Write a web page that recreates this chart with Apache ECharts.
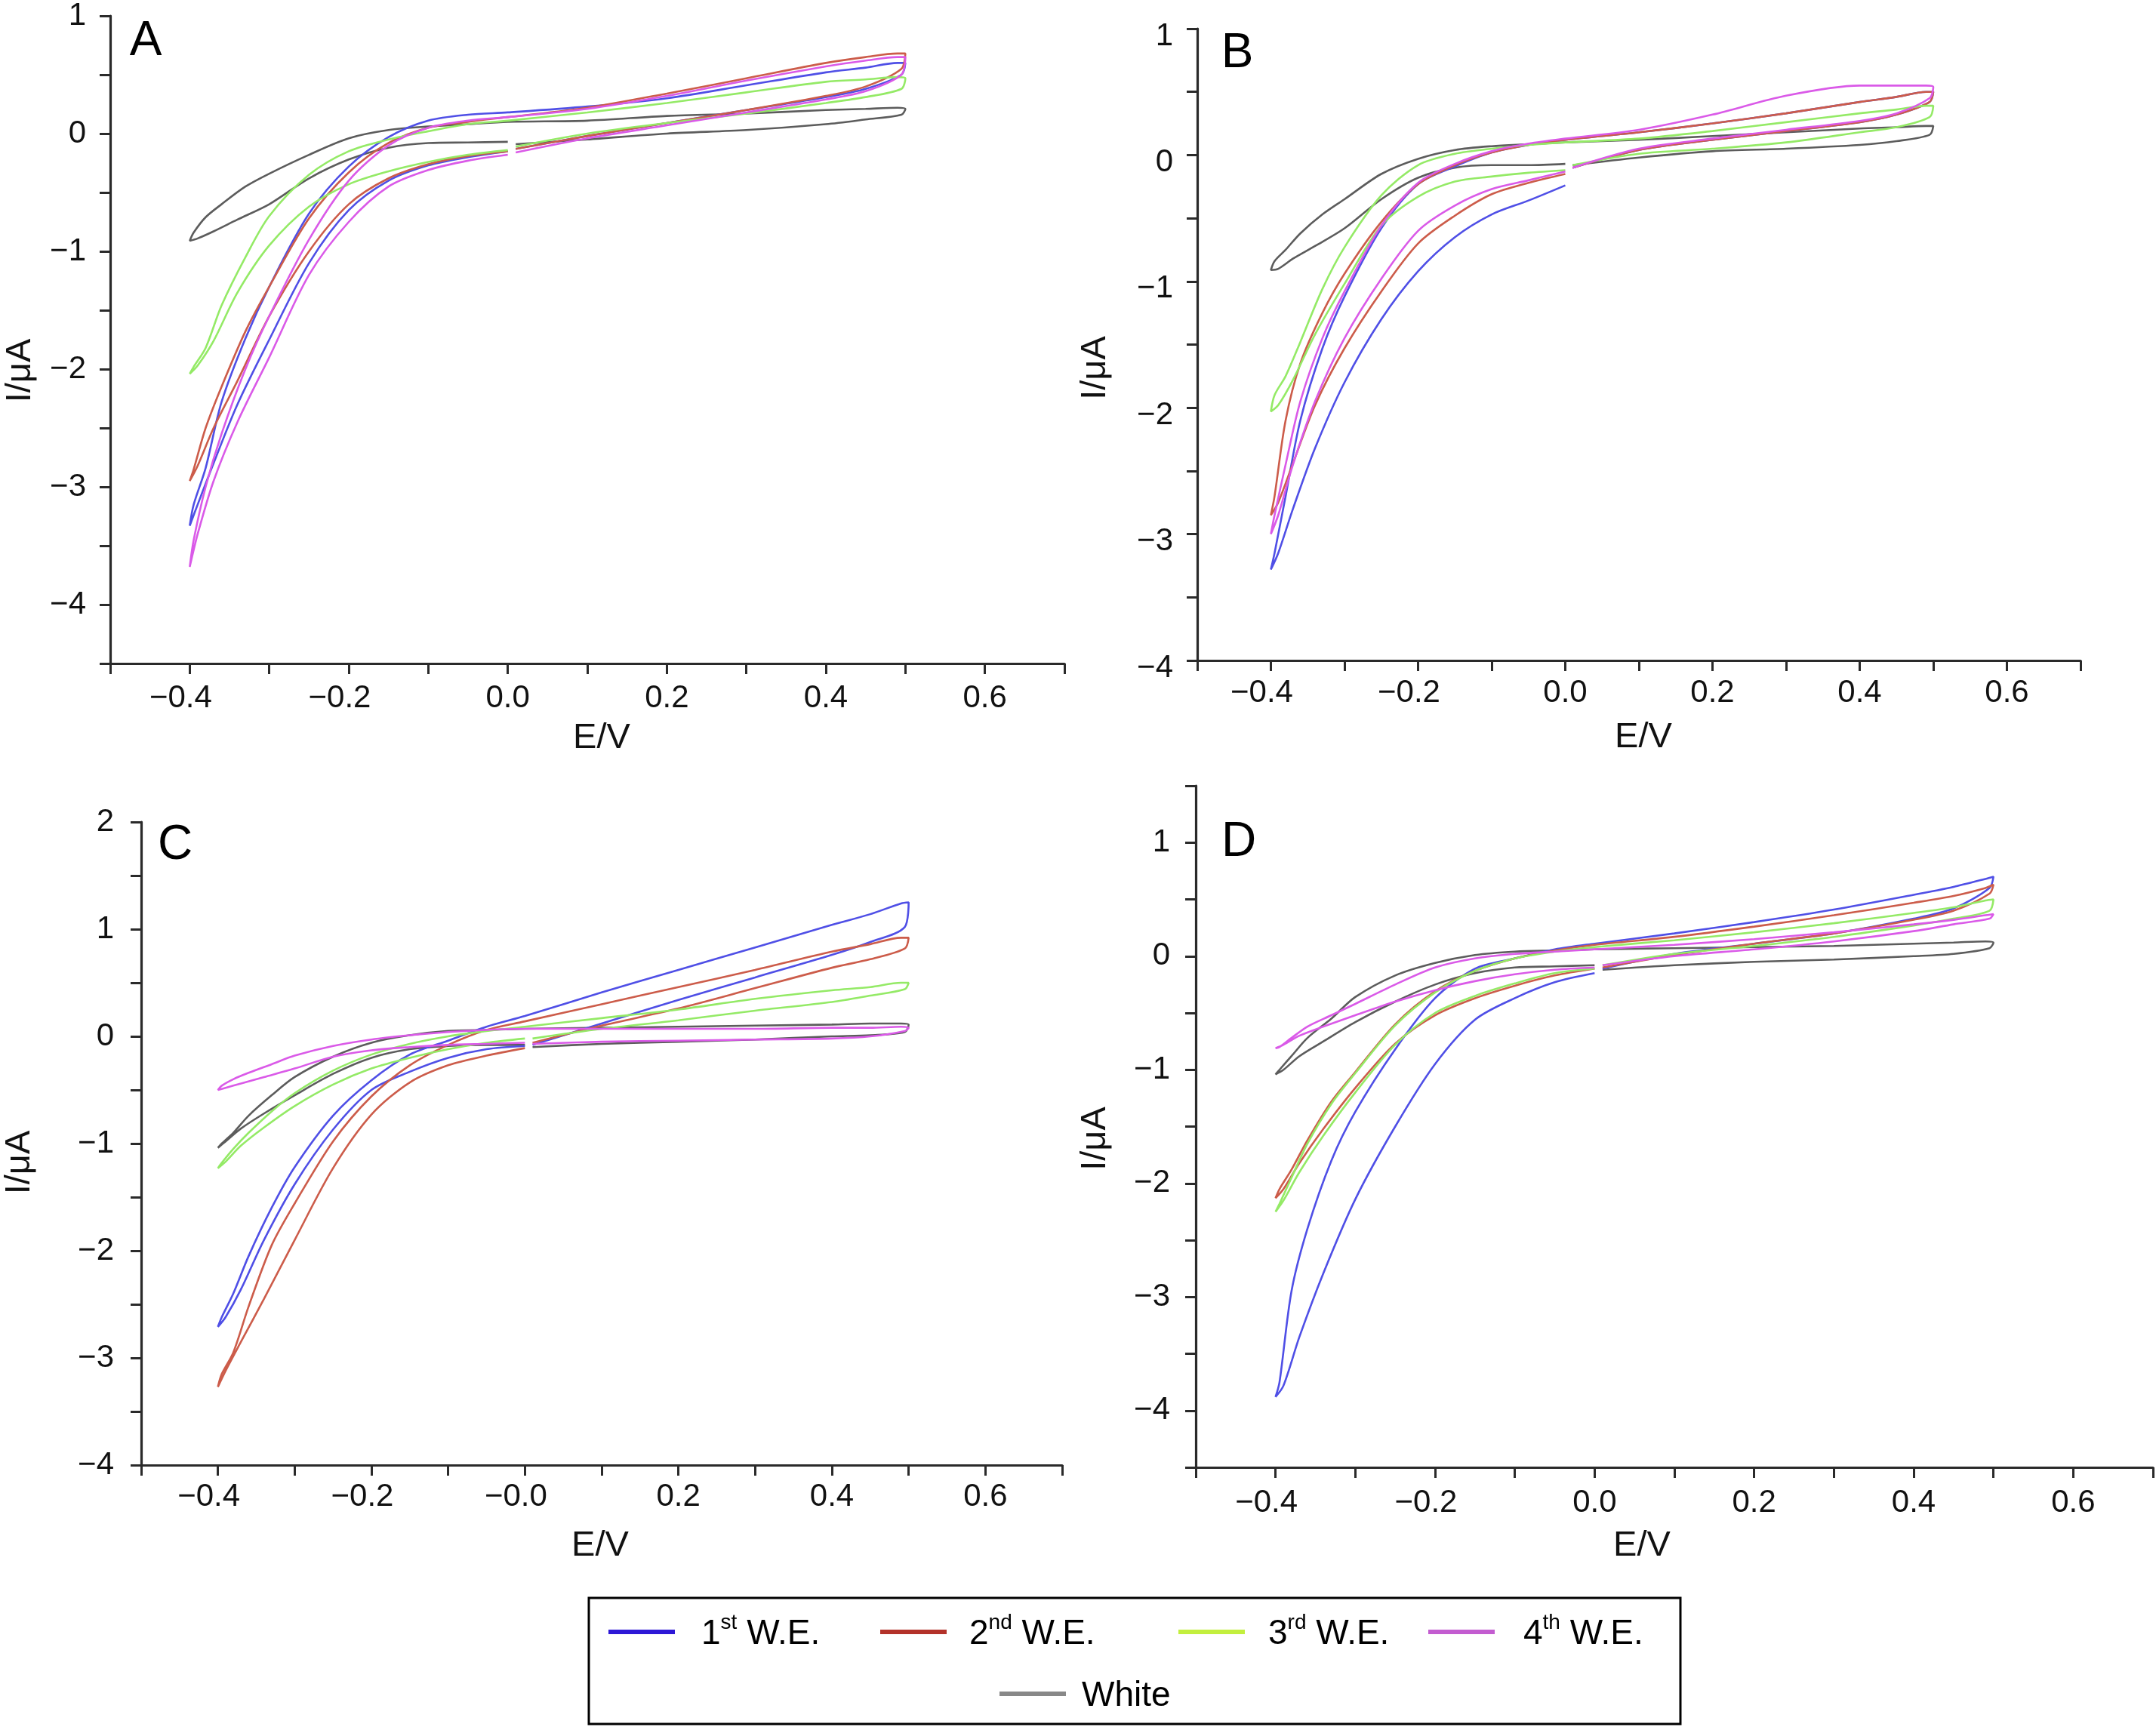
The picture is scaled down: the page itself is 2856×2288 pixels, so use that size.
<!DOCTYPE html>
<html>
<head>
<meta charset="utf-8">
<script src="https://cdn.jsdelivr.net/npm/echarts@6/dist/echarts.min.js"></script>
<style>
html,body{margin:0;padding:0;background:#fff;}
#c{width:2856px;height:2288px;}
</style>
</head>
<body>
<div id="c"></div>
<script>
// ---------------- DATA ----------------
// potential sweep (V): 0 -> -0.4 (cathodic), -0.4 -> 0.5 (anodic), 0.5 -> 0 (return)
const E_SWEEP = [0,-0.05,-0.1,-0.15,-0.2,-0.25,-0.3,-0.34,-0.37,-0.39,-0.4,
  -0.395,-0.38,-0.36,-0.33,-0.3,-0.25,-0.2,-0.15,-0.1,-0.05,
  0,0.1,0.2,0.3,0.4,0.45,0.49,0.5,
  0.495,0.45,0.4,0.3,0.2,0.1,0.01];

const SERIES_NAMES = ['1st W.E.','2nd W.E.','3rd W.E.','4th W.E.','White'];

// Panel A currents (µA)
const A_WE1 = [-0.15,-0.20,-0.27,-0.40,-0.65,-1.10,-1.75,-2.30,-2.80,-3.15,-3.33, -3.15,-2.84,-2.28,-1.74,-1.30,-0.68,-0.28,-0.03,0.11,0.16, 0.18,0.23,0.30,0.41,0.52,0.56,0.60,0.60, 0.50,0.38,0.31,0.20,0.09,-0.02,-0.13];
const A_WE2 = [-0.15,-0.19,-0.26,-0.38,-0.60,-1.00,-1.55,-2.10,-2.50,-2.82,-2.95, -2.85,-2.50,-2.15,-1.68,-1.30,-0.72,-0.33,-0.08,0.05,0.10, 0.14,0.22,0.34,0.47,0.60,0.65,0.68,0.68, 0.55,0.40,0.32,0.20,0.09,-0.02,-0.13];
const A_WE3 = [-0.14,-0.18,-0.24,-0.32,-0.43,-0.62,-0.95,-1.35,-1.76,-1.97,-2.04, -1.98,-1.82,-1.46,-1.05,-0.70,-0.35,-0.15,-0.05,0.02,0.08, 0.11,0.18,0.26,0.35,0.44,0.46,0.48,0.47, 0.38,0.31,0.26,0.17,0.09,0.00,-0.11];
const A_WE4 = [-0.18,-0.23,-0.31,-0.45,-0.75,-1.20,-1.90,-2.45,-2.95,-3.40,-3.68, -3.45,-3.00,-2.55,-2.00,-1.55,-0.90,-0.40,-0.10,0.05,0.11, 0.14,0.21,0.32,0.45,0.57,0.62,0.65,0.65, 0.50,0.36,0.29,0.18,0.07,-0.04,-0.16];
const A_WHITE = [-0.07,-0.075,-0.08,-0.12,-0.22,-0.38,-0.60,-0.73,-0.83,-0.89,-0.91, -0.84,-0.71,-0.60,-0.45,-0.34,-0.18,-0.04,0.03,0.06,0.08, 0.10,0.11,0.15,0.17,0.20,0.21,0.22,0.21, 0.16,0.12,0.08,0.03,0.00,-0.05,-0.09];

// Panel B
const B_WE1 = [-0.24,-0.36,-0.47,-0.65,-0.92,-1.30,-1.80,-2.32,-2.80,-3.15,-3.28, -3.15,-2.70,-2.10,-1.53,-1.12,-0.58,-0.23,-0.09,0.02,0.08, 0.12,0.18,0.25,0.33,0.42,0.46,0.50,0.50, 0.42,0.32,0.26,0.19,0.12,0.04,-0.10];
const B_WE2 = [-0.15,-0.22,-0.31,-0.48,-0.70,-1.08,-1.53,-1.98,-2.44,-2.75,-2.85, -2.70,-2.10,-1.65,-1.25,-0.94,-0.53,-0.23,-0.08,0.02,0.08, 0.12,0.18,0.25,0.33,0.42,0.46,0.50,0.50, 0.42,0.32,0.26,0.19,0.12,0.04,-0.10];
const B_WE3 = [-0.12,-0.14,-0.17,-0.21,-0.33,-0.56,-1.02,-1.42,-1.78,-1.98,-2.03, -1.90,-1.75,-1.48,-1.06,-0.73,-0.32,-0.08,0.01,0.05,0.08, 0.10,0.13,0.19,0.26,0.33,0.36,0.39,0.39, 0.30,0.22,0.18,0.10,0.05,0.01,-0.08];
const B_WE4 = [-0.13,-0.20,-0.27,-0.40,-0.60,-0.98,-1.45,-1.95,-2.45,-2.85,-3.00, -2.85,-2.45,-1.95,-1.45,-1.08,-0.56,-0.22,-0.07,0.03,0.09, 0.13,0.20,0.32,0.47,0.55,0.55,0.55,0.54, 0.45,0.33,0.27,0.20,0.13,0.05,-0.10];
const B_WHITE = [-0.07,-0.08,-0.08,-0.10,-0.18,-0.35,-0.58,-0.72,-0.82,-0.90,-0.91, -0.84,-0.75,-0.62,-0.47,-0.35,-0.15,-0.03,0.04,0.07,0.085, 0.10,0.12,0.15,0.18,0.21,0.22,0.23,0.23, 0.16,0.11,0.08,0.05,0.03,-0.02,-0.08];

// Panel C
const C_WE1 = [-0.09,-0.12,-0.20,-0.33,-0.50,-0.87,-1.38,-1.90,-2.36,-2.62,-2.71, -2.62,-2.40,-2.05,-1.60,-1.22,-0.74,-0.41,-0.17,-0.04,0.09, 0.19,0.41,0.62,0.83,1.04,1.14,1.24,1.25, 1.02,0.88,0.76,0.55,0.34,0.12,-0.08];
const C_WE2 = [-0.11,-0.18,-0.27,-0.43,-0.73,-1.23,-1.90,-2.45,-2.85,-3.12,-3.27, -3.15,-2.95,-2.52,-1.95,-1.56,-0.98,-0.56,-0.27,-0.08,0.06, 0.14,0.30,0.46,0.62,0.79,0.86,0.92,0.92, 0.82,0.72,0.64,0.45,0.26,0.10,-0.06];
const C_WE3 = [-0.02,-0.06,-0.12,-0.20,-0.30,-0.45,-0.65,-0.85,-1.02,-1.17,-1.23, -1.18,-1.05,-0.90,-0.70,-0.53,-0.32,-0.17,-0.07,0.00,0.05, 0.09,0.17,0.25,0.35,0.43,0.46,0.50,0.50, 0.44,0.38,0.32,0.24,0.15,0.07,-0.02];
const C_WE4 = [-0.06,-0.07,-0.08,-0.10,-0.13,-0.19,-0.30,-0.38,-0.44,-0.48,-0.50, -0.46,-0.40,-0.34,-0.26,-0.18,-0.09,-0.03,0.01,0.04,0.06, 0.07,0.07,0.07,0.07,0.08,0.08,0.09,0.08, 0.05,0.00,-0.02,-0.03,-0.04,-0.05,-0.07];
const C_WHITE = [-0.08,-0.08,-0.09,-0.12,-0.20,-0.35,-0.55,-0.72,-0.86,-0.98,-1.04, -1.00,-0.90,-0.74,-0.55,-0.38,-0.19,-0.06,0.01,0.05,0.06, 0.07,0.08,0.09,0.10,0.11,0.12,0.12,0.11, 0.04,0.01,0.00,-0.03,-0.05,-0.07,-0.10];

// Panel D
const D_WE1 = [-0.15,-0.23,-0.37,-0.56,-0.95,-1.50,-2.14,-2.79,-3.35,-3.78,-3.88, -3.75,-2.95,-2.40,-1.80,-1.37,-0.82,-0.37,-0.11,-0.02,0.06, 0.11,0.20,0.30,0.41,0.54,0.61,0.68,0.70, 0.60,0.42,0.33,0.20,0.11,0.02,-0.11];
const D_WE2 = [-0.11,-0.17,-0.26,-0.37,-0.52,-0.77,-1.16,-1.52,-1.82,-2.05,-2.13, -2.05,-1.88,-1.62,-1.28,-1.02,-0.60,-0.31,-0.13,-0.02,0.05, 0.10,0.17,0.26,0.36,0.47,0.53,0.60,0.63, 0.55,0.40,0.32,0.20,0.11,0.01,-0.10];
const D_WE3 = [-0.11,-0.15,-0.24,-0.35,-0.50,-0.78,-1.20,-1.58,-1.90,-2.15,-2.25, -2.18,-1.95,-1.65,-1.30,-1.03,-0.61,-0.32,-0.13,-0.02,0.04, 0.08,0.14,0.21,0.29,0.38,0.43,0.49,0.50, 0.40,0.33,0.27,0.17,0.09,0.02,-0.08];
const D_WE4 = [-0.10,-0.12,-0.16,-0.22,-0.30,-0.40,-0.52,-0.62,-0.70,-0.78,-0.81, -0.80,-0.72,-0.62,-0.52,-0.42,-0.25,-0.10,-0.02,0.02,0.04, 0.06,0.10,0.15,0.21,0.28,0.32,0.36,0.37, 0.33,0.28,0.22,0.13,0.06,0.00,-0.08];
const D_WHITE = [-0.08,-0.09,-0.10,-0.15,-0.25,-0.40,-0.58,-0.75,-0.88,-1.00,-1.04, -1.00,-0.88,-0.72,-0.55,-0.36,-0.17,-0.06,0.01,0.04,0.05, 0.06,0.07,0.08,0.09,0.11,0.12,0.13,0.12, 0.07,0.02,0.00,-0.03,-0.05,-0.08,-0.12];

// axis ranges per panel
const Y_RANGES = {A:[-4.5,1], B:[-4,1], C:[-4,2], D:[-4.5,1.5]};
const X_RANGE = [-0.5, 0.7];

// ---------------- STYLE / LAYOUT ----------------
const FONT = "'Liberation Sans', Arial, Helvetica, sans-serif";
const LINE_COLORS = ['#4f4fe6','#cc5c4a','#94ea66','#da5ae8','#5c5c5c'];
const LEGEND_COLORS = ['#2d17d6','#b3322a','#c3ef3e','#c35cd0','#888888'];
const AXIS_COLOR = '#2a2a2a';
const TICK_FONT = 42;
const NAME_FONT = 47;

const PANELS = [
  {key:'A', data:[A_WE1,A_WE2,A_WE3,A_WE4,A_WHITE], grid:{left:146, top:14, width:1264, height:865},
   letter:[193,55], negZero:false, xMargin:25, yMargin:32, yLabelDrop:0,
   xNameGap:76, xNamePad:[0,0,0,38], yNameGap:95, yNamePad:[0,82,0,0]},
  {key:'B', data:[B_WE1,B_WE2,B_WE3,B_WE4,B_WHITE], grid:{left:1586, top:38, width:1170, height:837},
   letter:[1639,71], negZero:false, xMargin:22, yMargin:32, yLabelDrop:20,
   xNameGap:79, xNamePad:[0,0,0,12], yNameGap:111, yNamePad:[0,62,0,0]},
  {key:'C', data:[C_WE1,C_WE2,C_WE3,C_WE4,C_WHITE], grid:{left:187, top:1089, width:1220, height:852},
   letter:[232,1120], negZero:true, xMargin:21, yMargin:36, yLabelDrop:0,
   xNameGap:84, xNamePad:[0,4,0,0], yNameGap:137, yNamePad:[0,50,0,0]},
  {key:'D', data:[D_WE1,D_WE2,D_WE3,D_WE4,D_WHITE], grid:{left:1584, top:1041, width:1268, height:903},
   letter:[1641,1116], negZero:false, xMargin:26, yMargin:34, yLabelDrop:0,
   xNameGap:81, xNamePad:[0,86,0,0], yNameGap:109, yNamePad:[0,32,0,0]}
];

function fmtMinus(s){ return s.charAt(0) === '-' ? '\u2212' + s.slice(1) : s; }

const grids = [], xAxes = [], yAxes = [], series = [], graphics = [];

PANELS.forEach((p, i) => {
  grids.push(Object.assign({containLabel:false}, p.grid));
  xAxes.push({
    type:'value', gridIndex:i, min:X_RANGE[0], max:X_RANGE[1], interval:0.1,
    axisLine:{show:true, onZero:false, lineStyle:{color:AXIS_COLOR, width:3.2}},
    axisTick:{show:true, inside:false, length:14, lineStyle:{color:AXIS_COLOR, width:3}},
    splitLine:{show:false},
    axisLabel:{
      margin:p.xMargin, fontSize:TICK_FONT, color:'#111', fontFamily:FONT,
      showMinLabel:true, showMaxLabel:true,
      formatter:function(v){
        const k = Math.round(v*10);
        if (k % 2 !== 0) return '';
        if (k === 0) return p.negZero ? '{ng|\u22120.0}' : '0.0';
        const s = fmtMinus((k/10).toFixed(1));
        return k < 0 ? '{ng|' + s + '}' : s;
      },
      rich:{ ng:{fontSize:TICK_FONT, fontFamily:FONT, color:'#111', padding:[0,24,0,0]} }
    },
    name:'E/V', nameLocation:'middle', nameGap:p.xNameGap,
    nameTextStyle:{fontSize:NAME_FONT, color:'#111', fontFamily:FONT, padding:p.xNamePad}
  });
  const yr = Y_RANGES[p.key];
  yAxes.push({
    type:'value', gridIndex:i, min:yr[0], max:yr[1], interval:0.5,
    axisLine:{show:true, onZero:false, lineStyle:{color:AXIS_COLOR, width:3.2}},
    axisTick:{show:true, inside:false, length:14, lineStyle:{color:AXIS_COLOR, width:3}},
    splitLine:{show:false},
    axisLabel:{
      margin:p.yMargin, fontSize:TICK_FONT, color:'#111', fontFamily:FONT,
      showMinLabel:true, showMaxLabel:true,
      formatter:function(v){
        const r = Math.round(v);
        if (Math.abs(v - r) > 1e-6) return '';
        const s = fmtMinus(String(r));
        return p.yLabelDrop ? '{d|' + s + '}' : s;
      },
      rich:{ d:{fontSize:TICK_FONT, fontFamily:FONT, color:'#111', padding:[p.yLabelDrop,0,0,0]} }
    },
    name:'I/\u03bcA', nameLocation:'middle', nameGap:p.yNameGap, nameRotate:90,
    nameTextStyle:{fontSize:NAME_FONT, color:'#111', fontFamily:FONT, padding:p.yNamePad}
  });
  // draw white first, then W.E. 1..4
  [4,0,1,2,3].forEach((k, order) => {
    series.push({
      type:'line', name:SERIES_NAMES[k], xAxisIndex:i, yAxisIndex:i,
      data:E_SWEEP.map((e, j) => [e, p.data[k][j]]),
      showSymbol:false, symbol:'none', smooth:0.3, silent:true,
      lineStyle:{width:2.6, color:LINE_COLORS[k]},
      itemStyle:{color:LINE_COLORS[k]},
      z:2 + order
    });
  });
  graphics.push({
    type:'text', x:p.letter[0], y:p.letter[1], z:100,
    style:{text:p.key, fontSize:64, fontFamily:FONT, fill:'#000', align:'center', verticalAlign:'middle'}
  });
});

// legend box
graphics.push({
  type:'rect', z:50,
  shape:{x:780, y:2117, width:1446, height:167},
  style:{fill:'none', stroke:'#000', lineWidth:3}
});

// [icon left, icon centre y, extra gap before text]
const LEG_POS = [[806,2162,30],[1166,2162,25],[1561,2162,26],[1892,2162,33],[1324,2247,16]];
const LEG_TEXT = {
  '1st W.E.':'{g|}{n|1}{s|st}{n| W.E.}',
  '2nd W.E.':'{g|}{n|2}{s|nd}{n| W.E.}',
  '3rd W.E.':'{g|}{n|3}{s|rd}{n| W.E.}',
  '4th W.E.':'{g|}{n|4}{s|th}{n| W.E.}',
  'White':'{g|}{n|White}'
};
const legends = SERIES_NAMES.map((n, k) => ({
  show:true, orient:'horizontal',
  left:LEG_POS[k][0], top:LEG_POS[k][1] - 26,
  padding:0, itemGap:0, selectedMode:false,
  icon:'rect', itemWidth:88, itemHeight:6,
  data:[{name:n, itemStyle:{color:LEGEND_COLORS[k]}}],
  formatter:function(name){ return LEG_TEXT[name]; },
  textStyle:{
    fontFamily:FONT, fontSize:46, color:'#000',
    rich:{
      g:{width:LEG_POS[k][2], height:52},
      n:{fontSize:46, fontFamily:FONT, color:'#000', lineHeight:52, verticalAlign:'bottom'},
      s:{fontSize:28, fontFamily:FONT, color:'#000', lineHeight:30, verticalAlign:'top'}
    }
  }
}));

const chart = echarts.init(document.getElementById('c'), null, {renderer:'canvas', width:2856, height:2288});
chart.setOption({
  animation:false,
  backgroundColor:'#ffffff',
  textStyle:{fontFamily:FONT},
  grid:grids,
  xAxis:xAxes,
  yAxis:yAxes,
  legend:legends,
  series:series,
  graphic:graphics
});
</script>
</body>
</html>
